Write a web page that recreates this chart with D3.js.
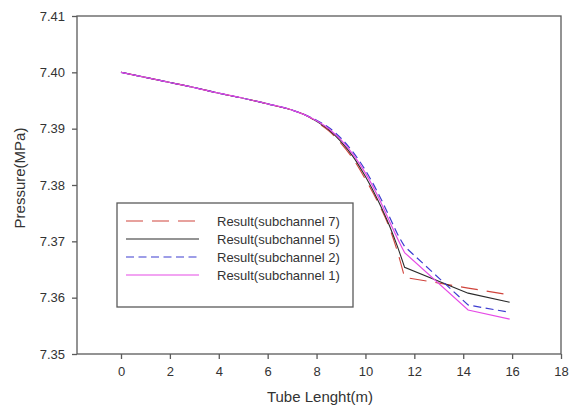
<!DOCTYPE html>
<html>
<head>
<meta charset="utf-8">
<script src="https://cdn.jsdelivr.net/npm/d3@7"></script>
<style>
  html, body { margin: 0; padding: 0; background: #fff; }
  svg { display: block; font-family: Arial, "Liberation Sans", sans-serif; }
</style>
</head>
<body>
<svg id="chart" width="569" height="412"></svg>
<script>
// Tube length positions (m)
const lengths = [0, 1, 2, 3, 4, 5, 6, 7, 7.5, 8, 8.5, 9, 9.5, 10, 10.5, 11, 11.3, 11.6, 14.2, 15.9];

// Pressure (MPa) along the tube for each subchannel
const sub7 = [7.4000, 7.3991, 7.3982, 7.3973, 7.3963, 7.3954, 7.3944, 7.3933, 7.3925,
              7.3912, 7.3896, 7.3874, 7.3846, 7.3810, 7.3770, 7.3722, 7.3683, 7.3636, 7.3617, 7.3605];
const sub5 = [7.4000, 7.3991, 7.3982, 7.3973, 7.3963, 7.3954, 7.3944, 7.3933, 7.3925,
              7.3913, 7.3898, 7.3877, 7.3850, 7.3815, 7.3774, 7.3726, 7.3692, 7.3654, 7.3608, 7.3592];
const sub2 = [7.4000, 7.3991, 7.3982, 7.3973, 7.3963, 7.3954, 7.3944, 7.3933, 7.3925,
              7.3915, 7.3902, 7.3883, 7.3858, 7.3826, 7.3787, 7.3742, 7.3714, 7.3691, 7.3587, 7.3574];
const sub1 = [7.4000, 7.3991, 7.3982, 7.3973, 7.3963, 7.3954, 7.3944, 7.3933, 7.3925,
              7.3914, 7.3900, 7.3880, 7.3854, 7.3821, 7.3781, 7.3734, 7.3706, 7.3680, 7.3578, 7.3562];

const seriesNames = ["Result(subchannel 7)", "Result(subchannel 5)", "Result(subchannel 2)", "Result(subchannel 1)"];
const seriesValues = [sub7, sub5, sub2, sub1];

const xTicks = [0, 2, 4, 6, 8, 10, 12, 14, 16, 18];
const yTicks = [7.35, 7.36, 7.37, 7.38, 7.39, 7.40, 7.41];

const styles = [
  { color: "#d0443c", dash: "17,9", width: 1.1 },
  { color: "#2a2a2a", dash: null, width: 1.1 },
  { color: "#3c3cd0", dash: "8,4.5", width: 1.2 },
  { color: "#e64be6", dash: null, width: 1.2 }
];

const svg = d3.select("#chart");
const plotLeft = 77, plotRight = 561, plotTop = 16, plotBottom = 354;

const x = d3.scaleLinear().domain([-1.8, 18]).range([plotLeft, plotRight]);
const y = d3.scaleLinear().domain([7.35, 7.41]).range([plotBottom, plotTop]);

const axisColor = "#5a5a5a";
const textColor = "#333";

// Frame around the plotting area
svg.append("rect")
  .attr("x", plotLeft).attr("y", plotTop)
  .attr("width", plotRight - plotLeft).attr("height", plotBottom - plotTop)
  .attr("fill", "none").attr("stroke", axisColor).attr("stroke-width", 1.3);

// Axes
const xAxis = svg.append("g")
  .attr("transform", `translate(0,${plotBottom})`)
  .call(d3.axisBottom(x).tickValues(xTicks).tickFormat(d3.format("d")).tickSize(5).tickPadding(8));
const yAxis = svg.append("g")
  .attr("transform", `translate(${plotLeft},0)`)
  .call(d3.axisLeft(y).tickValues(yTicks).tickFormat(d3.format(".2f")).tickSize(5).tickPadding(7));

[xAxis, yAxis].forEach(g => {
  g.select(".domain").remove();
  g.selectAll(".tick line").attr("stroke", axisColor).attr("stroke-width", 1.3);
  g.selectAll(".tick text").attr("fill", textColor).style("font-size", "13px")
    .style("font-family", "Arial, 'Liberation Sans', sans-serif");
});

// Axis titles
svg.append("text")
  .attr("x", 320).attr("y", 402)
  .attr("text-anchor", "middle")
  .attr("fill", textColor)
  .style("font-size", "15px")
  .text("Tube Lenght(m)");

svg.append("text")
  .attr("transform", "translate(25,178) rotate(-90)")
  .attr("text-anchor", "middle")
  .attr("fill", textColor)
  .style("font-size", "15px")
  .text("Pressure(MPa)");

// Series lines: smooth pressure drop up to the break at 11.6 m, straight segments after it
const breakIndex = lengths.indexOf(11.6);
const smoothLine = d3.line()
  .x(d => x(d[0]))
  .y(d => y(d[1]))
  .curve(d3.curveMonotoneX);
const straightLine = d3.line()
  .x(d => x(d[0]))
  .y(d => y(d[1]));

seriesValues.forEach((vals, k) => {
  const s = styles[k];
  const pts = vals.map((v, i) => [lengths[i], v]);
  const head = smoothLine(pts.slice(0, breakIndex + 1));
  const tail = straightLine(pts.slice(breakIndex)).replace(/^M/, "L");
  svg.append("path")
    .attr("d", head + tail)
    .attr("fill", "none")
    .attr("stroke", s.color)
    .attr("stroke-width", s.width)
    .attr("stroke-dasharray", s.dash);
});

// Legend
const legend = svg.append("g");
legend.append("rect")
  .attr("x", 117).attr("y", 203).attr("width", 236).attr("height", 104)
  .attr("fill", "#fff").attr("stroke", axisColor).attr("stroke-width", 1.3);

seriesNames.forEach((name, k) => {
  const s = styles[k];
  const ry = 221 + k * 18;
  legend.append("line")
    .attr("x1", 126).attr("x2", 199).attr("y1", ry).attr("y2", ry)
    .attr("stroke", s.color).attr("stroke-width", s.width)
    .attr("stroke-dasharray", s.dash);
  legend.append("text")
    .attr("x", 217).attr("y", ry).attr("dy", "0.35em")
    .attr("fill", textColor)
    .style("font-size", "13px")
    .text(name);
});
</script>
</body>
</html>
